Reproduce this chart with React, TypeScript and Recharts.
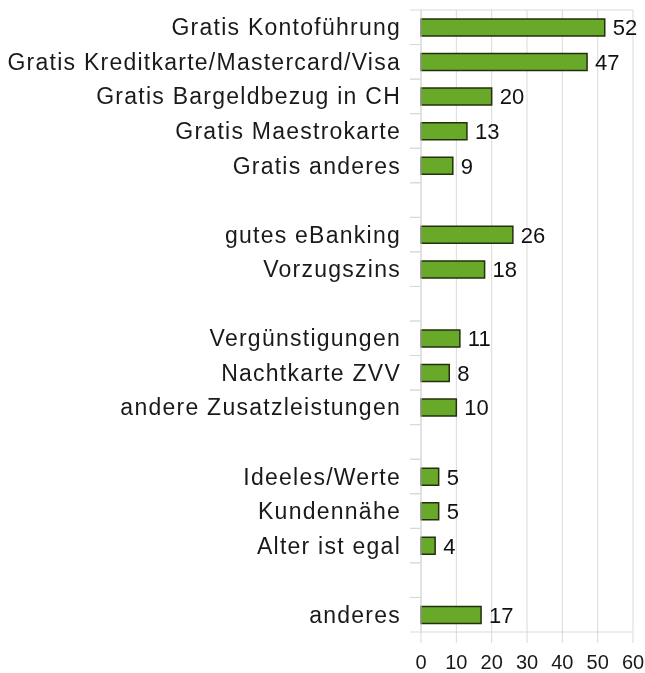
import { BarChart, Bar, XAxis, YAxis, CartesianGrid, LabelList } from "recharts";

// Leere Einträge sind Abstände zwischen den Gruppen
const categories = [
  "Gratis Kontoführung",
  "Gratis Kreditkarte/Mastercard/Visa",
  "Gratis Bargeldbezug in CH",
  "Gratis Maestrokarte",
  "Gratis anderes",
  "",
  "gutes eBanking",
  "Vorzugszins",
  " ",
  "Vergünstigungen",
  "Nachtkarte ZVV",
  "andere Zusatzleistungen",
  "  ",
  "Ideeles/Werte",
  "Kundennähe",
  "Alter ist egal",
  "   ",
  "anderes",
];
const values: (number | null)[] = [52, 47, 20, 13, 9, null, 26, 18, null, 11, 8, 10, null, 5, 5, 4, null, 17];
const xTicks = [0, 10, 20, 30, 40, 50, 60];

const data = categories.map((name, i) => ({ name, value: values[i] }));

const FONT = "'Liberation Sans', Arial, Helvetica, sans-serif";
const GRID = "#d9d9d9";
const BAND = 622 / categories.length;

function CategoryTick(props: any) {
  const { y, payload } = props;
  // Striche liegen zwischen den Kategorien, nicht in der Mitte
  const ax = 421;
  return (
    <g>
      <line x1={ax - 11} x2={ax} y1={y - BAND / 2} y2={y - BAND / 2} stroke={GRID} />
      <line x1={ax - 11} x2={ax} y1={y + BAND / 2} y2={y + BAND / 2} stroke={GRID} />
      <text x={ax - 20} y={y} dy="0.35em" textAnchor="end" fontSize={23} letterSpacing={1.25} fill="#1a1a1a" fontFamily={FONT}>
        {payload.value.trim()}
      </text>
    </g>
  );
}

export default function App() {
  return (
    <div style={{ position: "fixed", top: 0, left: 0 }}>
      <BarChart
        width={645}
        height={673}
        data={data}
        layout="vertical"
        margin={{ top: 10, right: 12, bottom: 0, left: 0 }}
        barSize={17}
      >
        <CartesianGrid
          stroke={GRID}
          vertical={true}
          horizontalCoordinatesGenerator={() => [10]}
        />
        <XAxis
          type="number"
          domain={[0, 60]}
          ticks={xTicks}
          interval={0}
          height={41}
          stroke={GRID}
          tickSize={11}
          tickMargin={12}
          tick={{ fontSize: 20, fill: "#1a1a1a", fontFamily: FONT }}
        />
        <YAxis
          type="category"
          dataKey="name"
          width={421}
          interval={0}
          stroke={GRID}
          tickLine={false}
          tick={<CategoryTick />}
        />
        <Bar dataKey="value" fill="#68a92a" stroke="#22300c" strokeWidth={1.5} isAnimationActive={false}>
          <LabelList
            dataKey="value"
            position="right"
            offset={8}
            fontSize={22}
            fill="#111"
            fontFamily={FONT}
          />
        </Bar>
      </BarChart>
    </div>
  );
}
